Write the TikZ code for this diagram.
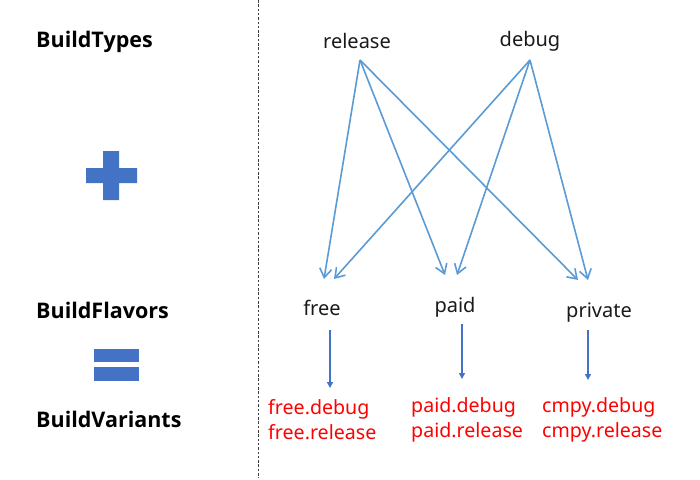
\documentclass[tikz,border=0pt]{standalone}
\usepackage{fontspec}
\setmainfont{Noto Sans}
\newfontfamily\catfont{Open Sans}
\usetikzlibrary{arrows.meta}
\definecolor{lblue}{HTML}{5B9BD5}
\definecolor{dblue}{HTML}{4472C4}
\definecolor{vred}{HTML}{FF0000}
\definecolor{txt}{HTML}{1A1A1A}
\begin{document}
\begin{tikzpicture}[x=1pt,y=-1pt,
  cat/.style={anchor=west,inner sep=0pt,font=\catfont\bfseries\fontsize{21.5}{26}\selectfont,text=black},
  lab/.style={inner sep=0pt,font=\fontsize{20}{25}\selectfont,text=txt},
  var/.style={anchor=west,align=left,inner sep=0pt,font=\fontsize{19.6}{25}\selectfont,text=vred},
  typearrow/.style={draw=lblue,line width=1.6pt,-{Straight Barb[length=9pt,width=12pt,line width=1.6pt]}},
  downarrow/.style={draw=dblue,line width=1.4pt,-{Triangle[length=6pt,width=6pt]}},
  shapefill/.style={fill=dblue,draw=none}]
\useasboundingbox (0,0) rectangle (700,479);
\fill[white] (0,0) rectangle (700,479);
% divider
\coordinate (dtop) at (258,0);
\coordinate (dbot) at (258,478);
\draw[black!75,line width=0.9pt,dash pattern=on 2.5pt off 1.8pt] (dtop) -- (dbot);
% left labels
\node[cat] (bt) at (36,42) {BuildTypes};
\node[cat] (bf) at (36,310) {BuildFlavors};
\node[cat] (bv) at (36,419) {BuildVariants};
% plus
\fill[shapefill] (103,151) -- (119,151) -- (119,168) -- (137,168) -- (137,183) -- (119,183) -- (119,200) -- (103,200) -- (103,183) -- (86,183) -- (86,168) -- (103,168) -- cycle;
% equals
\fill[shapefill] (94,349) rectangle (139,362);
\fill[shapefill] (94,367) rectangle (139,381);
% types
\node[lab] (rel) at (357,41) {release};
\node[lab] (dbg) at (530,41) {debug};
\coordinate (rs) at (360,60);
\coordinate (ds) at (530,60);
% flavors
\node[lab] (free) at (322,308) {free};
\node[lab] (paid) at (455,307) {paid};
\node[lab] (priv) at (599,313) {private};
\coordinate (fr1) at (324,279);
\coordinate (fr2) at (334,279);
\coordinate (pa1) at (445,275);
\coordinate (pa2) at (457,275);
\coordinate (pr1) at (578,280);
\coordinate (pr2) at (588,280);
\draw[typearrow] (rs) -- (fr1);
\draw[typearrow] (rs) -- (pa1);
\draw[typearrow] (rs) -- (pr1);
\draw[typearrow] (ds) -- (fr2);
\draw[typearrow] (ds) -- (pa2);
\draw[typearrow] (ds) -- (pr2);
% down arrows
\coordinate (f0) at (330,330);
\coordinate (f1) at (330,388);
\coordinate (p0) at (462,324);
\coordinate (p1) at (462,379);
\coordinate (q0) at (588,330);
\coordinate (q1) at (588,380);
\draw[downarrow] (f0) -- (f1);
\draw[downarrow] (p0) -- (p1);
\draw[downarrow] (q0) -- (q1);
% variants
\node[var] (fv) at (268,419.5) {free.debug\\free.release};
\node[var] (pv) at (411,419.5) {paid.debug\\paid.release};
\node[var] (cv) at (542,419.5) {cmpy.debug\\cmpy.release};
\end{tikzpicture}
\end{document}
